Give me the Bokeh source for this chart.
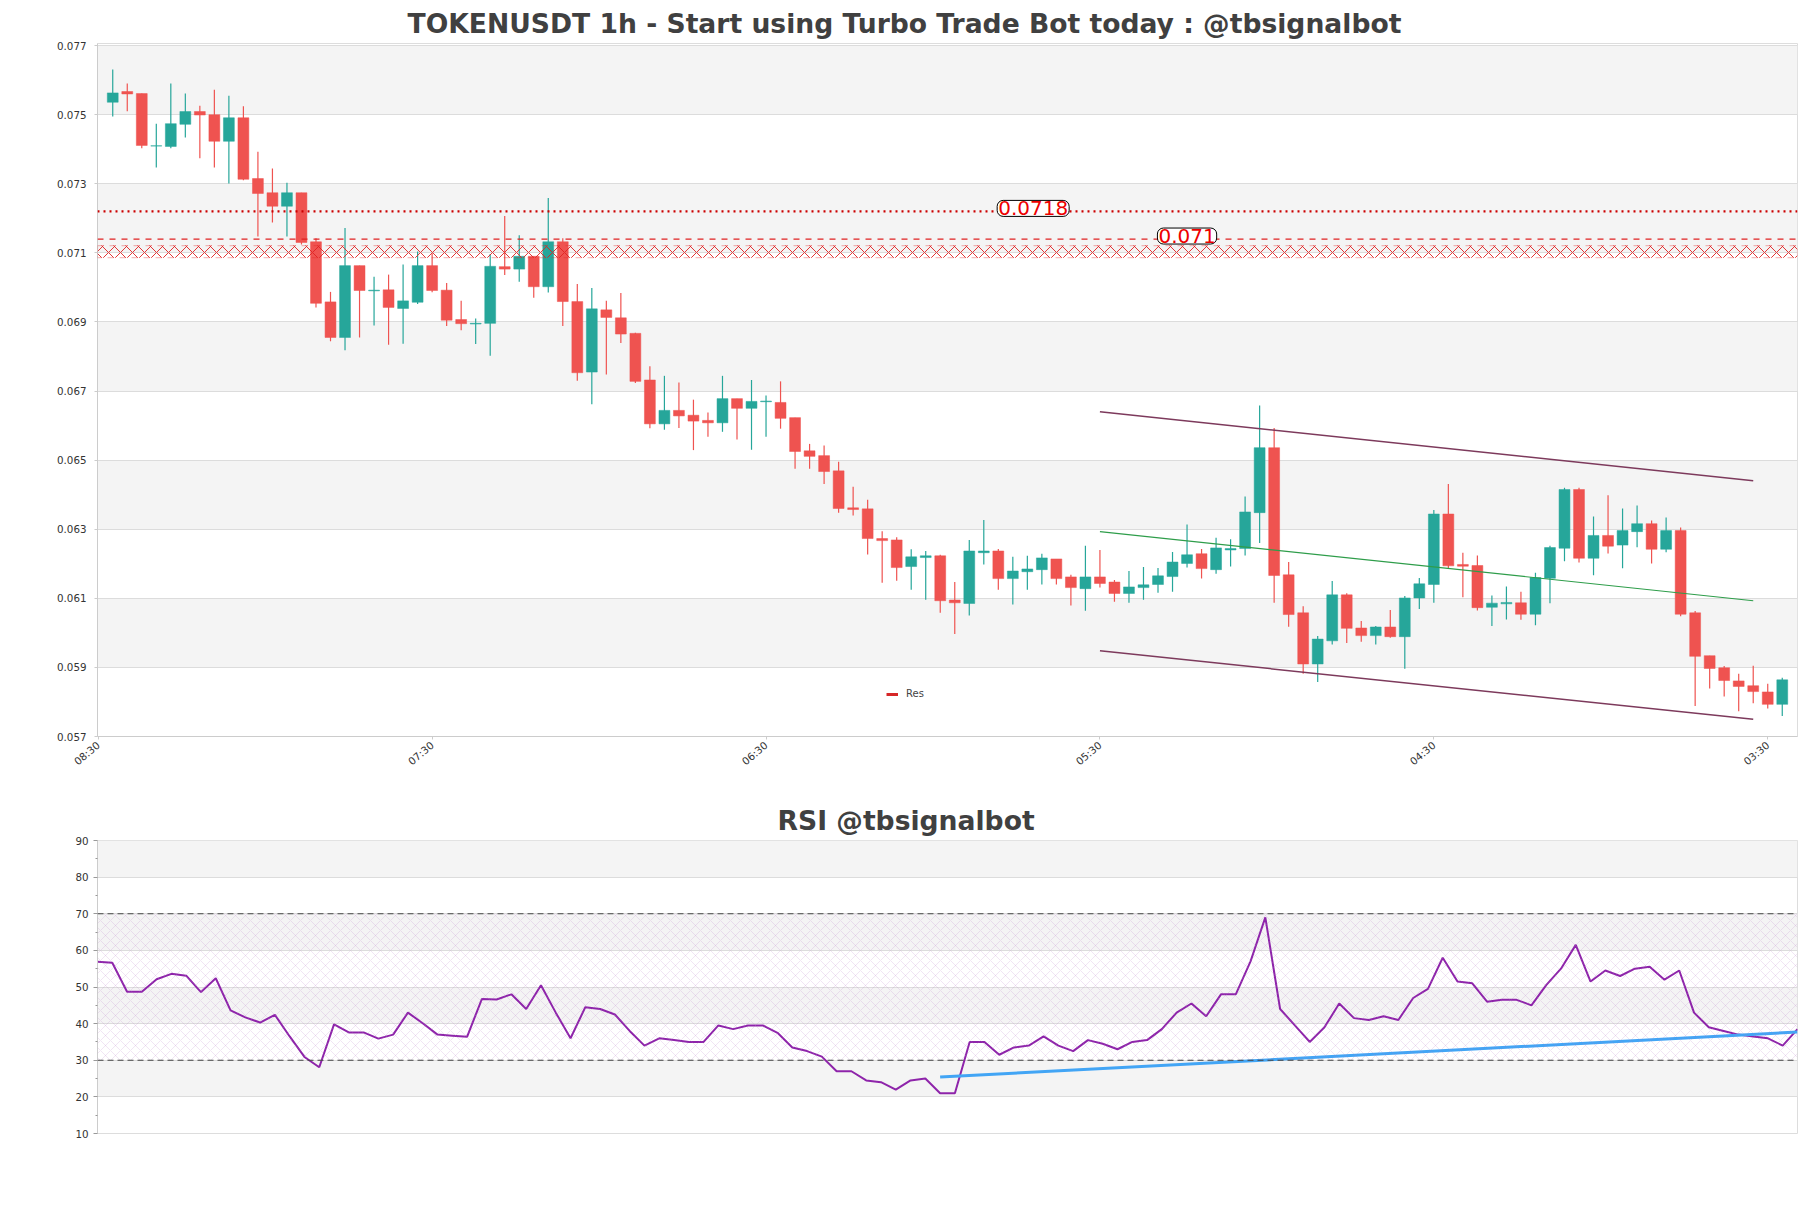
from bokeh.plotting import figure
from bokeh.layouts import column
from bokeh.models import (FixedTicker, PrintfTickFormatter, Span, BoxAnnotation,
                          Label, Range1d, Legend, LegendItem, ColumnDataSource)
from bokeh.embed import file_html
from bokeh.resources import INLINE
import math

# ---------------- data ----------------
opens = [0.07536, 0.07567, 0.07561, 0.07409, 0.07408, 0.07472, 0.07509, 0.07500, 0.07423, 0.07491,
         0.07315, 0.07274, 0.07235, 0.07274, 0.07132, 0.06958, 0.06855, 0.07063, 0.06990, 0.06993,
         0.06939, 0.06957, 0.07063, 0.06992, 0.06907, 0.06894, 0.06896, 0.07060, 0.07053, 0.07090,
         0.07002, 0.07132, 0.06959, 0.06755, 0.06935, 0.06912, 0.06867, 0.06732, 0.06605, 0.06644,
         0.06630, 0.06615, 0.06608, 0.06678, 0.06650, 0.06669, 0.06667, 0.06623, 0.06527, 0.06513,
         0.06469, 0.06362, 0.06359, 0.06273, 0.06269, 0.06192, 0.06218, 0.06223, 0.06095, 0.06085,
         0.06232, 0.06237, 0.06157, 0.06177, 0.06183, 0.06214, 0.06162, 0.06128, 0.06162, 0.06147,
         0.06114, 0.06131, 0.06140, 0.06163, 0.06201, 0.06229, 0.06183, 0.06240, 0.06244, 0.06348,
         0.06536, 0.06168, 0.06058, 0.05910, 0.05977, 0.06110, 0.06014, 0.05992, 0.06017, 0.05989,
         0.06101, 0.06140, 0.06344, 0.06198, 0.06195, 0.06074, 0.06084, 0.06087, 0.06054, 0.06158,
         0.06245, 0.06415, 0.06216, 0.06282, 0.06254, 0.06293, 0.06316, 0.06242, 0.06296, 0.06058,
         0.05934, 0.05899, 0.05861, 0.05847, 0.05829, 0.05793]
highs = [0.07631, 0.07590, 0.07561, 0.07474, 0.07590, 0.07561, 0.07526, 0.07572, 0.07555, 0.07524,
         0.07393, 0.07344, 0.07303, 0.07274, 0.07142, 0.06987, 0.07172, 0.07063, 0.07031, 0.07037,
         0.07066, 0.07104, 0.07099, 0.07013, 0.06961, 0.06910, 0.07097, 0.07207, 0.07151, 0.07090,
         0.07259, 0.07142, 0.07010, 0.06998, 0.06961, 0.06984, 0.06869, 0.06772, 0.06744, 0.06725,
         0.06675, 0.06638, 0.06744, 0.06678, 0.06732, 0.06687, 0.06728, 0.06623, 0.06547, 0.06542,
         0.06495, 0.06423, 0.06385, 0.06294, 0.06277, 0.06242, 0.06237, 0.06226, 0.06147, 0.06269,
         0.06327, 0.06243, 0.06220, 0.06223, 0.06229, 0.06214, 0.06168, 0.06252, 0.06240, 0.06153,
         0.06179, 0.06191, 0.06188, 0.06234, 0.06314, 0.06243, 0.06275, 0.06271, 0.06395, 0.06658,
         0.06593, 0.06205, 0.06077, 0.05991, 0.06150, 0.06115, 0.06034, 0.06020, 0.06066, 0.06107,
         0.06159, 0.06356, 0.06431, 0.06232, 0.06224, 0.06108, 0.06134, 0.06119, 0.06174, 0.06252,
         0.06420, 0.06420, 0.06337, 0.06398, 0.06360, 0.06369, 0.06325, 0.06334, 0.06305, 0.06063,
         0.05934, 0.05904, 0.05882, 0.05905, 0.05853, 0.05870]
lows = [0.07495, 0.07510, 0.07403, 0.07347, 0.07403, 0.07434, 0.07374, 0.07347, 0.07301, 0.07310,
        0.07147, 0.07188, 0.07147, 0.07124, 0.06942, 0.06844, 0.06818, 0.06855, 0.06890, 0.06834,
        0.06837, 0.06952, 0.06986, 0.06888, 0.06876, 0.06836, 0.06802, 0.07036, 0.07016, 0.06970,
        0.06985, 0.06888, 0.06730, 0.06662, 0.06748, 0.06839, 0.06723, 0.06592, 0.06588, 0.06593,
        0.06529, 0.06568, 0.06582, 0.06560, 0.06530, 0.06568, 0.06591, 0.06475, 0.06475, 0.06431,
        0.06348, 0.06340, 0.06227, 0.06145, 0.06151, 0.06125, 0.06096, 0.06058, 0.05997, 0.06050,
        0.06198, 0.06125, 0.06082, 0.06125, 0.06140, 0.06140, 0.06079, 0.06064, 0.06131, 0.06090,
        0.06087, 0.06096, 0.06116, 0.06119, 0.06189, 0.06157, 0.06171, 0.06192, 0.06224, 0.06260,
        0.06087, 0.06018, 0.05882, 0.05858, 0.05966, 0.05971, 0.05974, 0.05966, 0.05986, 0.05896,
        0.06069, 0.06087, 0.06186, 0.06103, 0.06065, 0.06020, 0.06039, 0.06038, 0.06022, 0.06086,
        0.06207, 0.06204, 0.06167, 0.06230, 0.06187, 0.06248, 0.06201, 0.06233, 0.06048, 0.05788,
        0.05839, 0.05816, 0.05773, 0.05796, 0.05781, 0.05759]
closes = [0.07563, 0.07560, 0.07411, 0.07410, 0.07474, 0.07509, 0.07499, 0.07423, 0.07491, 0.07313,
          0.07272, 0.07235, 0.07274, 0.07130, 0.06954, 0.06855, 0.07063, 0.06991, 0.06992, 0.06942,
          0.06961, 0.07063, 0.06991, 0.06905, 0.06895, 0.06896, 0.07061, 0.07053, 0.07090, 0.07002,
          0.07132, 0.06959, 0.06753, 0.06938, 0.06913, 0.06865, 0.06728, 0.06605, 0.06644, 0.06628,
          0.06613, 0.06608, 0.06678, 0.06650, 0.06670, 0.06671, 0.06621, 0.06525, 0.06511, 0.06467,
          0.06360, 0.06357, 0.06273, 0.06267, 0.06189, 0.06220, 0.06223, 0.06093, 0.06087, 0.06237,
          0.06237, 0.06157, 0.06179, 0.06185, 0.06217, 0.06157, 0.06131, 0.06162, 0.06143, 0.06114,
          0.06133, 0.06139, 0.06165, 0.06205, 0.06226, 0.06186, 0.06246, 0.06244, 0.06350, 0.06536,
          0.06166, 0.06053, 0.05910, 0.05982, 0.06110, 0.06013, 0.05992, 0.06017, 0.05989, 0.06101,
          0.06142, 0.06344, 0.06194, 0.06193, 0.06073, 0.06086, 0.06088, 0.06054, 0.06160, 0.06247,
          0.06415, 0.06216, 0.06282, 0.06251, 0.06296, 0.06316, 0.06242, 0.06296, 0.06054, 0.05932,
          0.05897, 0.05862, 0.05845, 0.05830, 0.05793, 0.05864]

rsi = [56.9, 56.6, 48.7, 48.7, 52.1, 53.6, 53.1, 48.6, 52.4, 43.6,
       41.7, 40.3, 42.4, 36.5, 30.9, 28.1, 39.8, 37.6, 37.6, 35.9,
       37.0, 43.0, 40.1, 37.0, 36.7, 36.4, 46.7, 46.6, 48.0, 44.0,
       50.5, 43.0, 36.0, 44.5, 44.0, 42.5, 38.0, 34.0, 36.0, 35.5,
       35.0, 35.0, 39.5, 38.5, 39.5, 39.5, 37.5, 33.5, 32.5, 31.0,
       27.0, 27.0, 24.5, 24.0, 22.0, 24.5, 25.0, 21.0, 21.0, 35.0,
       35.0, 31.5, 33.5, 34.0, 36.5, 34.0, 32.5, 35.5, 34.5, 33.0,
       35.0, 35.5, 38.5, 43.0, 45.5, 42.0, 48.0, 48.0, 57.0, 69.0,
       44.0, 39.5, 35.0, 39.0, 45.5, 41.5, 41.0, 42.0, 41.0, 47.0,
       49.5, 58.0, 51.5, 51.0, 46.0, 46.5, 46.5, 45.0, 50.5, 55.0,
       61.5, 51.5, 54.5, 53.0, 55.0, 55.5, 52.0, 54.5, 43.0, 39.0,
       38.0, 37.0, 36.5, 36.0, 34.0, 38.5]

tick_pos = [-1, 22, 45, 68, 91, 114]
tick_labels = ["08:30", "07:30", "06:30", "05:30", "04:30", "03:30"]

price_ticks = [0.057, 0.059, 0.061, 0.063, 0.065, 0.067, 0.069, 0.071, 0.073, 0.075, 0.077]
rsi_ticks = [10, 20, 30, 40, 50, 60, 70, 80, 90]
rsi_minor = [15, 25, 35, 45, 55, 65, 75, 85]

res_dotted = 0.0722
res_dashed = 0.0714
res_zone = [0.07086, 0.07121]
res_labels = ["0.0718", "0.071"]

chan_x = [68, 113]
chan_upper = [0.0664, 0.0644]
chan_mid = [0.06293, 0.06093]
chan_lower = [0.05948, 0.0575]

rsi_trend_x = [57, 115]
rsi_trend_y = [25.4, 37.7]
rsi_levels = [70, 30]

# ---------------- styling ----------------
UP = "#26a69a"
DOWN = "#ef5350"
FONT = "DejaVu Sans"
NAN = float("nan")

idx = list(range(len(opens)))
colors = [UP if c >= o else DOWN for o, c in zip(opens, closes)]
src = ColumnDataSource(dict(x=idx, o=opens, h=highs, l=lows, c=closes,
                            top=[max(o, c) for o, c in zip(opens, closes)],
                            bot=[min(o, c) for o, c in zip(opens, closes)],
                            col=colors))

p = figure(width=1811, height=790, output_backend="svg", toolbar_location=None,
           x_range=Range1d(-1.05, 116.05), y_range=Range1d(0.057, 0.07706),
           min_border_left=97, min_border_right=14, min_border_top=43, min_border_bottom=54)
p.title.text = "TOKENUSDT 1h - Start using Turbo Trade Bot today : @tbsignalbot"
p.title.text_font = FONT
p.title.text_font_size = "26.6px"
p.title.text_color = "#404040"
p.title.align = "left"
p.title.offset = 310
p.outline_line_color = "#dddddd"
p.background_fill_color = "white"

p.xgrid.visible = False
p.ygrid.grid_line_color = "#dcdcdc"
p.ygrid.band_fill_color = "#f4f4f4"
p.ygrid.band_fill_alpha = 1.0

p.yaxis.ticker = FixedTicker(ticks=price_ticks)
p.yaxis.formatter = PrintfTickFormatter(format="%.3f")
p.yaxis.major_label_standoff = 8
p.xaxis.ticker = FixedTicker(ticks=tick_pos)
p.xaxis.major_label_overrides = {t: s for t, s in zip(tick_pos, tick_labels)}
p.xaxis.major_label_orientation = math.radians(40)
p.xaxis.major_label_standoff = 4
for ax in (p.xaxis, p.yaxis):
    ax.axis_line_color = "#cccccc"
    ax.major_tick_line_color = "#cccccc"
    ax.major_tick_out = 3
    ax.major_tick_in = 0
    ax.minor_tick_line_color = None
    ax.major_label_text_font = FONT
    ax.major_label_text_font_size = "10.3px"
    ax.major_label_text_color = "#333333"

# resistance zone and lines
p.add_layout(BoxAnnotation(bottom=res_zone[0], top=res_zone[1], fill_alpha=0,
                           line_color="#e02020", line_dash="dashed", line_width=1.2,
                           hatch_pattern="diagonal_cross", hatch_color="#e02020",
                           hatch_scale=12, hatch_weight=1.0, hatch_alpha=0.9))
p.add_layout(Span(location=res_dashed, dimension="width", line_color="#e02020",
                  line_dash="dashed", line_width=1.3))
p.add_layout(Span(location=res_dotted, dimension="width", line_color="#cc0000",
                  line_dash="dotted", line_width=2.2))

# candles
p.segment(x0="x", y0="h", x1="x", y1="l", color="col", line_width=1.2, source=src)
p.vbar(x="x", width=0.75, top="top", bottom="bot", fill_color="col", line_color="col",
       line_width=0.5, source=src)

# channel
p.line(chan_x, chan_upper, line_color="#7d3a5c", line_width=1.5)
p.line(chan_x, chan_lower, line_color="#7d3a5c", line_width=1.5)
p.line(chan_x, chan_mid, line_color="#2e9d4a", line_width=1.2)

# labels
for txt, lvl, xp in zip(res_labels, [res_dotted, res_dashed], [63.4, 74.0]):
    p.add_layout(Label(x=xp, y=lvl, y_offset=3, text=txt, text_color="#ee0000", text_font=FONT,
                       text_font_size="20px", text_align="center", text_baseline="middle",
                       background_fill_color="white", border_line_color="black",
                       border_line_width=1, border_radius=6, padding=1))

# legend entry (glyph only; no drawn data)
res_r = p.line(x=[0, 0], y=[NAN, NAN], line_color="#d62728", line_width=3)
legend = Legend(items=[LegendItem(label="Res", renderers=[res_r])], location=(787, 35),
                border_line_alpha=0, background_fill_alpha=0, label_text_font=FONT,
                label_text_font_size="10px", glyph_width=12, glyph_height=10,
                label_standoff=8, padding=2, margin=0)
p.add_layout(legend)

# ---------------- RSI ----------------
r = figure(width=1811, height=418, output_backend="svg", toolbar_location=None,
           x_range=Range1d(0, 115), y_range=Range1d(10, 90),
           min_border_left=97, min_border_right=14, min_border_top=50, min_border_bottom=75)
r.title.text = "RSI @tbsignalbot"
r.title.text_font = FONT
r.title.text_font_size = "26.6px"
r.title.text_color = "#404040"
r.title.align = "left"
r.title.offset = 680
r.outline_line_color = "#dddddd"
r.xgrid.visible = False
r.xaxis.visible = False
r.ygrid.grid_line_color = "#dcdcdc"
r.ygrid.band_fill_color = "#f4f4f4"
r.ygrid.band_fill_alpha = 1.0
r.yaxis.ticker = FixedTicker(ticks=rsi_ticks, minor_ticks=rsi_minor)
r.yaxis.axis_line_color = "#cccccc"
r.yaxis.major_tick_line_color = "#999999"
r.yaxis.minor_tick_line_color = "#999999"
r.yaxis.major_tick_out = 4
r.yaxis.major_tick_in = 0
r.yaxis.minor_tick_out = 2
r.yaxis.minor_tick_in = 0
r.yaxis.major_label_text_font = FONT
r.yaxis.major_label_text_font_size = "10.3px"
r.yaxis.major_label_text_color = "#333333"

r.add_layout(BoxAnnotation(bottom=rsi_levels[1], top=rsi_levels[0], fill_alpha=0, line_alpha=0,
                           hatch_pattern="diagonal_cross", hatch_color="#b070c0",
                           hatch_scale=10, hatch_weight=0.6, hatch_alpha=0.3))
for lv in rsi_levels:
    r.add_layout(Span(location=lv, dimension="width", line_color="#444444",
                      line_dash="6 4", line_width=1.2))
r.line(list(range(len(rsi))), rsi, line_color="#8e24aa", line_width=2)
r.line(rsi_trend_x, rsi_trend_y, line_color="#42a5f5", line_width=3)

layout = column(p, r, spacing=0)
open("out.html", "w").write(file_html(layout, INLINE))
